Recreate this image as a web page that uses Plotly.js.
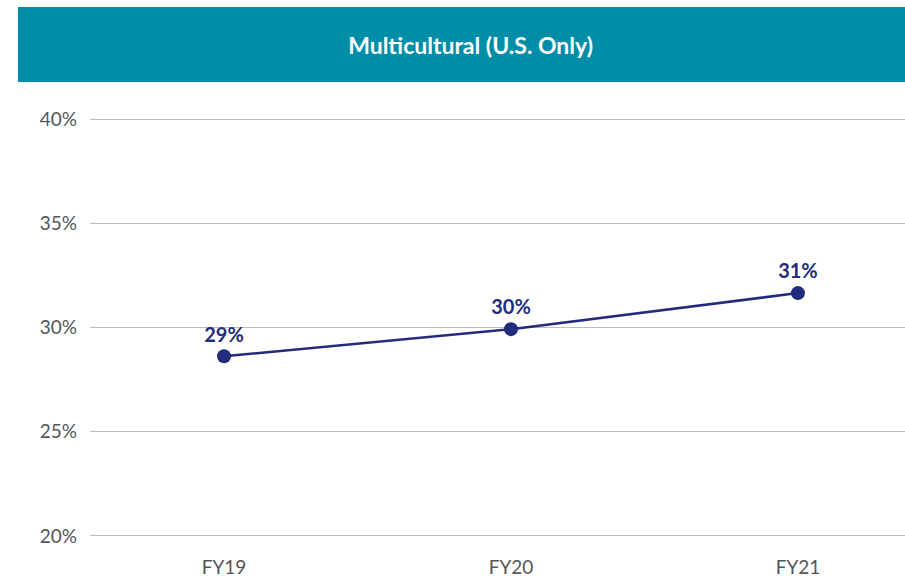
<!DOCTYPE html>
<html><head><meta charset="utf-8">
<script src="https://cdn.plot.ly/plotly-3.0.1.min.js"></script>
<style>html,body{margin:0;padding:0;background:#fff;}#chart{width:905px;height:583px;}</style>
</head><body><div id="chart"></div>
<script>
var categories = ["FY19", "FY20", "FY21"];
var values = [28.62, 29.92, 31.65];
var labels = ["29%", "30%", "31%"];
var yTicks = [20, 25, 30, 35, 40];
var titleText = "Multicultural (U.S. Only)";

var W = 905, H = 583;
var m = {l: 90, r: 0, t: 118, b: 46};
var yRange = [19.95, 40.05];
var pw = W - m.l - m.r, ph = H - m.t - m.b;
function px2x(p){ return (p - m.l) / pw; }
function px2y(p){ return (H - m.b - p) / ph; }

var trace = {
  x: categories, y: values, text: labels,
  type: "scatter", mode: "lines+markers+text",
  line: {color: "#232C7C", width: 2.5},
  marker: {color: "#232C7C", size: 14},
  textposition: "top center",
  textfont: {family: "Lato, 'Open Sans', sans-serif", size: 20, color: "#232C7C", weight: 700},
  cliponaxis: false, hoverinfo: "skip"
};

var layout = {
  width: W, height: H, margin: m,
  paper_bgcolor: "#fff", plot_bgcolor: "#fff",
  showlegend: false,
  font: {family: "Lato, 'Open Sans', sans-serif", color: "#555555", size: 19},
  title: {text: "<b>" + titleText + "</b>", font: {family: "Lato, 'Open Sans', sans-serif", size: 23, color: "#ffffff"},
          x: 0.52, xref: "container", xanchor: "center", y: 1 - 46/H, yref: "container", yanchor: "middle"},
  xaxis: {type: "category", range: [-0.467, 2.373], showgrid: false, zeroline: false, showline: false,
          ticks: "", ticklabelstandoff: 17, tickfont: {size: 19, color: "#555555"}},
  yaxis: {range: yRange, tickvals: yTicks, ticktext: yTicks.map(function(v){return v + "%";}),
          showgrid: true, gridcolor: "#BDBDBD", gridwidth: 1, zeroline: false, showline: false,
          ticks: "", ticklabelstandoff: 12, tickfont: {size: 19, color: "#555555"}},
  shapes: [{type: "rect", xref: "paper", yref: "paper", x0: px2x(18), x1: px2x(905), y0: px2y(82), y1: px2y(7),
            fillcolor: "#008DA8", line: {width: 0}, layer: "below"}]
};
Plotly.newPlot("chart", [trace], layout, {displayModeBar: false, staticPlot: true});
</script></body></html>
